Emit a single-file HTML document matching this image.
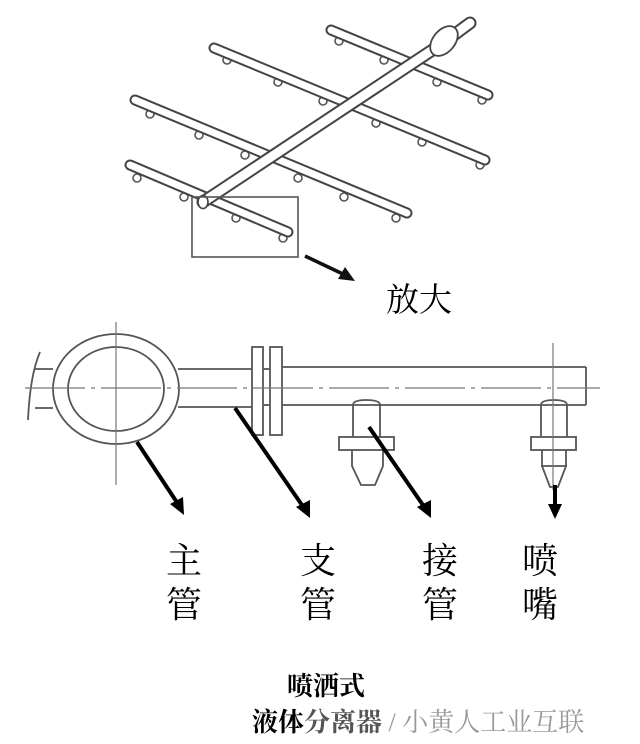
<!DOCTYPE html>
<html><head><meta charset="utf-8"><style>
html,body{margin:0;padding:0;background:#fff;}
svg{display:block;}
.t{font-family:"Liberation Serif","Noto Serif CJK SC",serif;fill:#000;}
</style></head><body>
<svg width="640" height="744" viewBox="0 0 640 744" xmlns="http://www.w3.org/2000/svg">
<rect width="640" height="744" fill="#fff"/>
<!-- nozzles (behind branches) -->
<g fill="#fff" stroke="#555" stroke-width="1.6">
  <circle cx="339" cy="41" r="4"/><circle cx="384" cy="60" r="4"/><circle cx="437" cy="82" r="4"/><circle cx="482" cy="100" r="4"/>
  <circle cx="227" cy="60" r="4"/><circle cx="278" cy="82" r="4"/><circle cx="323" cy="101" r="4"/><circle cx="376" cy="123" r="4"/><circle cx="422" cy="142" r="4"/><circle cx="480" cy="165" r="4"/>
  <circle cx="150" cy="114" r="4"/><circle cx="199" cy="135" r="4"/><circle cx="245" cy="155" r="4"/><circle cx="298" cy="178" r="4"/><circle cx="344" cy="197" r="4"/><circle cx="396" cy="218" r="4"/>
  <circle cx="137" cy="178" r="4"/><circle cx="184" cy="197" r="4"/><circle cx="236" cy="218" r="4"/><circle cx="283" cy="238" r="4"/>
</g>
<g stroke-linecap="round" fill="none">
  <g stroke="#444" stroke-width="11">
    <line x1="331" y1="30" x2="488" y2="95"/>
    <line x1="214" y1="48" x2="485" y2="160"/>
    <line x1="135" y1="100" x2="407" y2="213"/>
    <line x1="130" y1="165" x2="288" y2="232"/>
  </g>
  <g stroke="#fff" stroke-width="7">
    <line x1="331" y1="30" x2="488" y2="95"/>
    <line x1="214" y1="48" x2="485" y2="160"/>
    <line x1="135" y1="100" x2="407" y2="213"/>
    <line x1="130" y1="165" x2="288" y2="232"/>
  </g>
  <line x1="203" y1="202" x2="443" y2="43" stroke="#444" stroke-width="13"/>
  <line x1="203" y1="202" x2="443" y2="43" stroke="#fff" stroke-width="9"/>
  <line x1="443" y1="43" x2="470" y2="23" stroke="#444" stroke-width="13"/>
  <line x1="443" y1="43" x2="470" y2="23" stroke="#fff" stroke-width="9"/>
</g>
<ellipse cx="444" cy="41" rx="11" ry="17" fill="#fff" stroke="#444" stroke-width="1.8" transform="rotate(40 444 41)"/>
<ellipse cx="203" cy="202" rx="5" ry="6.5" fill="#fff" stroke="#444" stroke-width="1.6"/>
<rect x="192" y="197" width="106" height="60" fill="none" stroke="#555" stroke-width="1.6"/>
<line x1="305" y1="256" x2="345" y2="275" stroke="#111" stroke-width="3.5"/>
<polygon points="355,281 338,279 345,267" fill="#111"/>
<text x="386" y="311" class="t" font-size="33">放大</text>

<!-- bottom enlarged view -->
<g stroke="#555" stroke-width="1.8" fill="none">
  <path d="M40,352 Q30,375 28,420"/>
  <line x1="35" y1="369" x2="53" y2="369"/><line x1="35" y1="408" x2="53" y2="408"/>
  <line x1="178" y1="369" x2="252" y2="369"/><line x1="178" y1="407" x2="252" y2="407"/>
  <line x1="263" y1="369" x2="270" y2="369"/><line x1="263" y1="405" x2="270" y2="405"/>
  <line x1="282" y1="367" x2="586" y2="367"/><line x1="282" y1="405" x2="586" y2="405"/>
  <line x1="586" y1="367" x2="586" y2="405"/>
  <rect x="252" y="347" width="11" height="88" fill="#fff"/>
  <rect x="270" y="347" width="12" height="88" fill="#fff"/>
  <ellipse cx="116" cy="389" rx="63" ry="55" fill="#fff"/>
  <ellipse cx="116" cy="389" rx="48" ry="42"/>
  <path d="M353,437 V405 Q353,400 366,400 Q380,400 380,405 V437"/>
  <rect x="339" y="437" width="55" height="13" fill="#fff"/>
  <path d="M352,450 V466 L361,485 H375 L383,466 V450"/>
  <path d="M541,437 V405 Q541,400 554,400 Q567,400 567,405 V437"/>
  <rect x="531" y="437" width="45" height="13" fill="#fff"/>
  <path d="M542,450 V466 L550,487 H558 L566,466 V450"/>
  <line x1="541" y1="466" x2="567" y2="466"/>
</g>
<g stroke="#777" stroke-width="1.2">
  <line x1="25" y1="388" x2="600" y2="388" stroke-dasharray="60,6,4,6"/>
  <line x1="116" y1="322" x2="116" y2="485"/>
  <line x1="553" y1="343" x2="553" y2="490"/>
</g>
<g stroke="#000" stroke-width="4">
  <line x1="137" y1="442" x2="178" y2="504"/>
  <line x1="235" y1="408" x2="304" y2="508"/>
  <line x1="369" y1="427" x2="425" y2="508"/>
  <line x1="555" y1="485" x2="555" y2="506"/>
</g>
<g fill="#000">
  <polygon points="184,515 170,504 183,497"/>
  <polygon points="310,518 296,507 310,500"/>
  <polygon points="431,518 417,507 431,500"/>
  <polygon points="555,519 548,504 562,504"/>
</g>
<g class="t" font-size="36">
  <text x="166" y="573">主</text><text x="166" y="617">管</text>
  <text x="300" y="573">支</text><text x="300" y="617">管</text>
  <text x="422" y="573">接</text><text x="422" y="617">管</text>
  <text x="522" y="573">喷</text><text x="522" y="617">嘴</text>
</g>
<text x="287" y="695" class="t" font-size="26" font-weight="bold">喷洒式</text>
<text x="252" y="731" class="t" font-size="26" font-weight="bold">液体<tspan fill="#555">分离器</tspan><tspan fill="#999" font-weight="normal"> / 小黄人工业互联</tspan></text>
</svg>
</body></html>
